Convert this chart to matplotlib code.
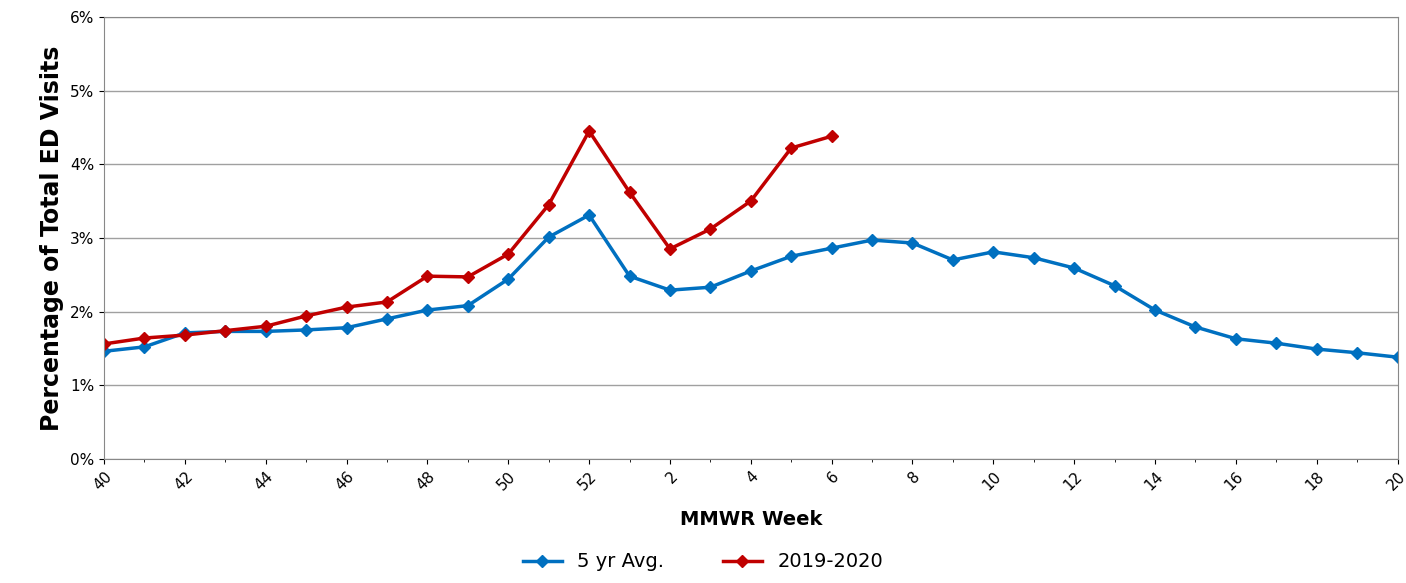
import matplotlib.pyplot as plt
from matplotlib.ticker import PercentFormatter

weeks = list(range(40, 53)) + list(range(1, 21))
avg5 = [1.46, 1.52, 1.71, 1.73, 1.73, 1.75, 1.78, 1.90, 2.02, 2.08, 2.44, 3.01, 3.31,
        2.48, 2.29, 2.33, 2.55, 2.75, 2.86, 2.97, 2.93, 2.70, 2.81, 2.73, 2.59, 2.35,
        2.02, 1.79, 1.63, 1.57, 1.49, 1.44, 1.38]
season = [1.56, 1.64, 1.68, 1.74, 1.80, 1.94, 2.06, 2.13, 2.48, 2.47, 2.78, 3.45, 4.45,
          3.62, 2.85, 3.12, 3.50, 4.22, 4.38]

fig = plt.figure(figsize=(14.06, 5.83), dpi=100)
ax = fig.add_axes([0.074, 0.213, 0.920, 0.758])
x = list(range(len(weeks)))
ax.plot(x, avg5, color="#0070C0", lw=2.5, marker="D", ms=6, label="5 yr Avg.")
ax.plot(x[:len(season)], season, color="#C00000", lw=2.5, marker="D", ms=6, label="2019-2020")

ax.set_xlim(0, len(weeks) - 1)
ax.set_ylim(0, 6)
ax.set_xticks(x[::2])
ax.set_xticklabels([str(w) for w in weeks[::2]], rotation=45, ha="right",
                   rotation_mode="anchor", fontsize=11)
ax.set_xticks(x, minor=True)
ax.yaxis.set_major_formatter(PercentFormatter(decimals=0))
ax.tick_params(axis="y", labelsize=11)
ax.grid(axis="y", color="#a0a0a0", lw=1)
ax.set_axisbelow(True)
for s in ax.spines.values():
    s.set_color("#888888")

ax.set_ylabel("Percentage of Total ED Visits", fontsize=17, fontweight="bold")
ax.set_xlabel("MMWR Week", fontsize=14, fontweight="bold", labelpad=12)
fig.legend(loc="lower center", ncol=2, frameon=False, fontsize=14,
           bbox_to_anchor=(0.5, -0.01), columnspacing=3)

fig.savefig("out.png", dpi=100)
